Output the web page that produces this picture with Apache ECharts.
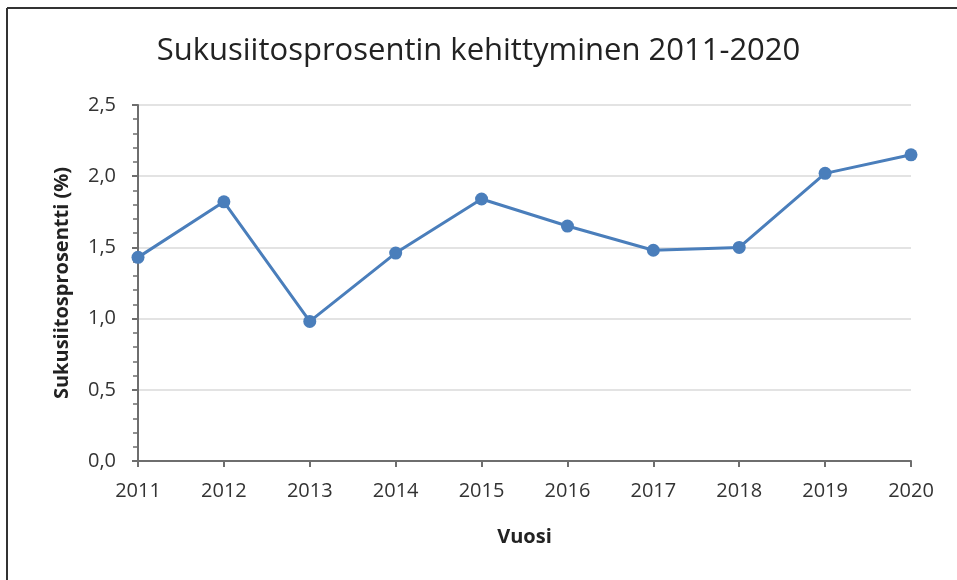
<!DOCTYPE html>
<html>
<head>
<meta charset="utf-8">
<script src="https://cdn.jsdelivr.net/npm/echarts@6/dist/echarts.min.js"></script>
<style>
  html, body { margin: 0; padding: 0; background: #fff; }
  #chart { width: 957px; height: 580px; }
</style>
</head>
<body>
<div id="chart"></div>
<script>
// vuodet ja sukusiitosprosentit
const years = ['2011', '2012', '2013', '2014', '2015', '2016', '2017', '2018', '2019', '2020']
const inbreeding = [1.43, 1.82, 0.98, 1.46, 1.84, 1.65, 1.48, 1.50, 2.02, 2.15]
const yTicks = [0, 0.5, 1, 1.5, 2, 2.5]

const font = '"Open Sans", "Noto Sans", sans-serif'
const axisColor = '#6e6e6e'

const myChart = echarts.init(document.getElementById('chart'))
const option = {
  backgroundColor: '#fff',
  animation: false,
  title: {
    text: 'Sukusiitosprosentin kehittyminen 2011-2020',
    left: 'center',
    top: 31,
    textStyle: { fontFamily: font, fontSize: 31, fontWeight: 'normal', color: '#222' },
  },
  graphic: [
    // kehyksen ylä- ja vasen reuna
    { type: 'line', shape: { x1: 7, y1: 8, x2: 957, y2: 8 }, style: { stroke: '#333', lineWidth: 2 } },
    { type: 'line', shape: { x1: 7, y1: 8, x2: 7, y2: 580 }, style: { stroke: '#333', lineWidth: 2 } },
  ],
  grid: { left: 138, right: 46, top: 105, bottom: 119 },
  xAxis: {
    type: 'category',
    data: years,
    boundaryGap: false,
    name: 'Vuosi',
    nameLocation: 'middle',
    nameGap: 66,
    nameTextStyle: { fontFamily: font, fontSize: 20, fontWeight: 'bold', color: '#222' },
    axisLine: { lineStyle: { color: axisColor, width: 2 } },
    axisTick: { alignWithLabel: true, length: 6, lineStyle: { color: axisColor, width: 2 } },
    axisLabel: { fontFamily: font, fontSize: 20, color: '#333', margin: 20 },
  },
  yAxis: {
    type: 'value',
    min: yTicks[0],
    max: yTicks[yTicks.length - 1],
    interval: 0.5,
    name: 'Sukusiitosprosentti (%)',
    nameLocation: 'middle',
    nameGap: 66,
    nameTextStyle: { fontFamily: font, fontSize: 20, fontWeight: 'bold', color: '#222' },
    axisLine: { show: true, lineStyle: { color: axisColor, width: 2 } },
    axisTick: { show: true, length: 6, lineStyle: { color: axisColor, width: 2 } },
    minorTick: { show: true, splitNumber: 5, length: 5, lineStyle: { color: axisColor, width: 1.5 } },
    splitLine: { lineStyle: { color: '#e3e3e3', width: 2 } },
    axisLabel: {
      fontFamily: font, fontSize: 20, color: '#333', margin: 22,
      formatter: v => v.toFixed(1).replace('.', ','),
    },
  },
  series: [
    {
      type: 'line',
      data: inbreeding,
      symbol: 'circle',
      symbolSize: 13,
      lineStyle: { color: '#4a7ebb', width: 3 },
      itemStyle: { color: '#4a7ebb' },
    },
  ],
}
myChart.setOption(option, true)
</script>
</body>
</html>
